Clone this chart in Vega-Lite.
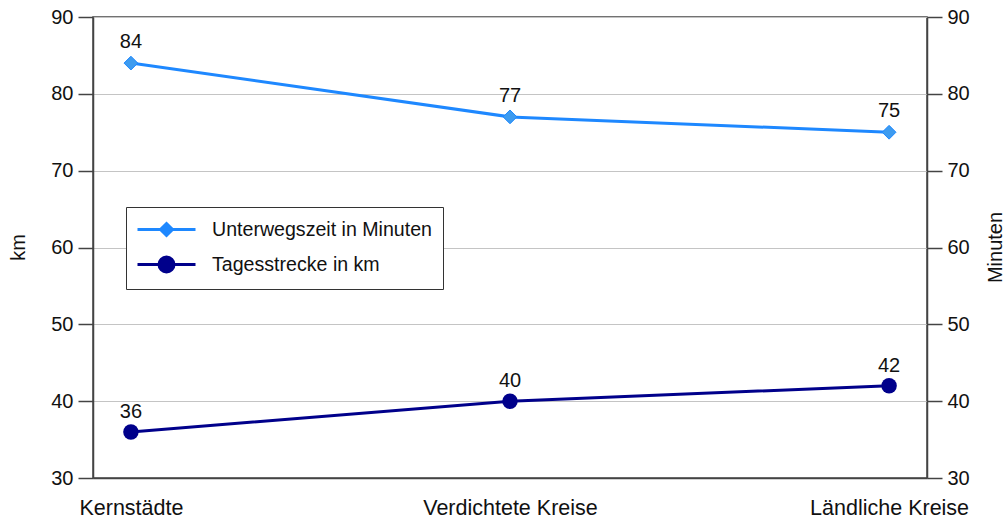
{
  "$schema": "https://vega.github.io/schema/vega-lite/v6.json",
  "width": 834,
  "height": 461,
  "autosize": {"type": "none"},
  "padding": {"left": 93, "top": 17, "right": 78, "bottom": 47},
  "background": "white",
  "config": {
    "font": "Liberation Sans",
    "view": {"stroke": "#444", "strokeWidth": 1.5},
    "axis": {
      "labelFont": "Liberation Sans",
      "labelFontSize": 20,
      "labelColor": "#111",
      "titleFont": "Liberation Sans",
      "titleFontSize": 20,
      "titleFontWeight": "normal",
      "titleColor": "#111",
      "domainColor": "#444",
      "domainWidth": 1.5,
      "tickColor": "#444",
      "tickWidth": 1.5,
      "gridColor": "#c4c4c4",
      "gridWidth": 1
    }
  },
  "data": {
    "values": [
      {"Gebiet": "Kernstädte", "Reihe": "Unterwegszeit in Minuten", "Wert": 84},
      {"Gebiet": "Verdichtete Kreise", "Reihe": "Unterwegszeit in Minuten", "Wert": 77},
      {"Gebiet": "Ländliche Kreise", "Reihe": "Unterwegszeit in Minuten", "Wert": 75},
      {"Gebiet": "Kernstädte", "Reihe": "Tagesstrecke in km", "Wert": 36},
      {"Gebiet": "Verdichtete Kreise", "Reihe": "Tagesstrecke in km", "Wert": 40},
      {"Gebiet": "Ländliche Kreise", "Reihe": "Tagesstrecke in km", "Wert": 42}
    ]
  },
  "encoding": {
    "x": {
      "field": "Gebiet",
      "type": "nominal",
      "sort": null,
      "scale": {"type": "point", "padding": 0.1},
      "axis": {"title": null, "labelAngle": 0, "ticks": false, "grid": false, "labelPadding": 19, "labelFontSize": 21.5, "domain": true}
    },
    "color": {
      "field": "Reihe",
      "type": "nominal",
      "scale": {"domain": ["Unterwegszeit in Minuten", "Tagesstrecke in km"], "range": ["#1E88FF", "#00008B"]},
      "legend": {
        "orient": "none",
        "legendX": 33,
        "legendY": 190,
        "title": null,
        "symbolSize": 400,
        "symbolStrokeWidth": 3,
        "symbolOffset": 18,
        "labelFont": "Liberation Sans",
        "labelFontSize": 19.6,
        "labelColor": "#111",
        "labelLimit": 500,
        "labelOffset": 34,
        "strokeColor": "#333",
        "fillColor": "white",
        "padding": 11,
        "rowPadding": 9,
        "encode": {
          "symbols": {
            "update": {
              "shape": {"signal": "datum.value === 'Unterwegszeit in Minuten' ? 'M-2.9,0H2.9M0,-0.6L0.6,0L0,0.6L-0.6,0Z' : 'M-2.9,0H2.9M-0.75,0A0.75,0.75 0 1,0 0.75,0A0.75,0.75 0 1,0 -0.75,0Z'"},
              "fill": {"signal": "datum.value === 'Unterwegszeit in Minuten' ? '#3D9BEF' : '#00008B'"},
              "stroke": {"signal": "datum.value === 'Unterwegszeit in Minuten' ? '#1E88FF' : '#00008B'"},
              "strokeWidth": {"value": 3},
              "opacity": {"value": 1},
              "fillOpacity": {"value": 1},
              "strokeOpacity": {"value": 1}
            }
          }
        }
      }
    }
  },
  "layer": [
    {
      "transform": [{"filter": "datum.Reihe === 'Tagesstrecke in km'"}],
      "encoding": {
        "y": {
          "field": "Wert",
          "type": "quantitative",
          "scale": {"domain": [30, 90], "nice": false, "zero": false},
          "axis": {
            "orient": "left",
            "title": "km",
            "values": [30, 40, 50, 60, 70, 80, 90],
            "tickSize": 15,
            "labelPadding": 5,
            "grid": true,
            "titleAngle": 270,
            "titleX": -75,
            "titleY": 230,
            "titleAlign": "center",
            "titleBaseline": "middle"
          }
        }
      },
      "layer": [
        {"mark": {"type": "line", "strokeWidth": 3}},
        {"mark": {"type": "point", "shape": "circle", "filled": true, "size": 240, "opacity": 1}},
        {"mark": {"type": "text", "fontSize": 20, "baseline": "alphabetic", "dy": -14, "color": "#111"}, "encoding": {"text": {"field": "Wert", "type": "quantitative"}, "color": {"value": "#111"}}}
      ]
    },
    {
      "transform": [{"filter": "datum.Reihe === 'Unterwegszeit in Minuten'"}],
      "encoding": {
        "y": {
          "field": "Wert",
          "type": "quantitative",
          "scale": {"domain": [30, 90], "nice": false, "zero": false},
          "axis": {
            "orient": "right",
            "title": "Minuten",
            "values": [30, 40, 50, 60, 70, 80, 90],
            "tickSize": 15,
            "labelPadding": 5,
            "grid": false,
            "titleAngle": 270,
            "titleX": 68,
            "titleY": 230,
            "titleAlign": "center",
            "titleBaseline": "middle"
          }
        }
      },
      "layer": [
        {"mark": {"type": "line", "strokeWidth": 3}},
        {"mark": {"type": "point", "shape": "diamond", "filled": true, "size": 190, "opacity": 1, "fill": "#3D9BEF", "stroke": "#1E88FF", "strokeWidth": 1}},
        {"mark": {"type": "text", "fontSize": 20, "baseline": "alphabetic", "dy": -15, "color": "#111"}, "encoding": {"text": {"field": "Wert", "type": "quantitative"}, "color": {"value": "#111"}}}
      ]
    }
  ],
  "resolve": {"scale": {"y": "independent"}}
}
